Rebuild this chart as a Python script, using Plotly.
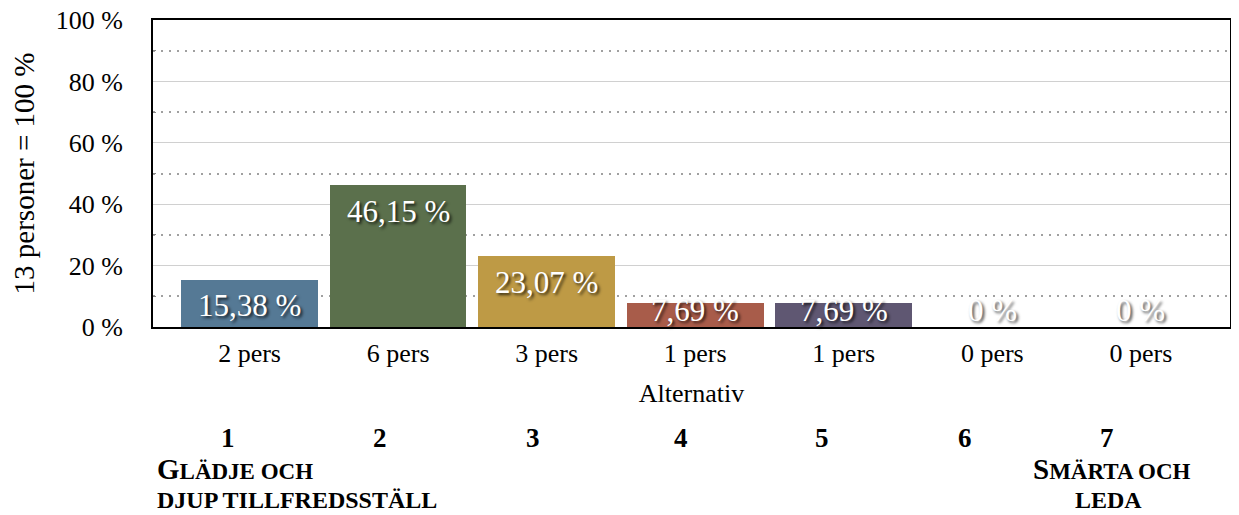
import plotly.graph_objects as go

# data
categories = [1, 2, 3, 4, 5, 6, 7]
percent = [15.38, 46.15, 23.07, 7.69, 7.69, 0.0, 0.0]
pct_labels = ["15,38 %", "46,15 %", "23,07 %", "7,69 %", "7,69 %", "0 %", "0 %"]
tick_labels = ["2 pers", "6 pers", "3 pers", "1 pers", "1 pers", "0 pers", "0 pers"]
bar_colors = ["#557995", "#5B704C", "#BE9A45", "#A85C4A", "#5F5772", "#8064A2", "#4BACC6"]
y_ticks = [0, 20, 40, 60, 80, 100]
y_tick_text = ["0 %", "20 %", "40 %", "60 %", "80 %", "100 %"]
y_minor = [10, 30, 50, 70, 90]
scale_numbers = ["1", "2", "3", "4", "5", "6", "7"]

FONT = "Liberation Serif, Times New Roman, serif"
SHADOW = "2px 2px 3px rgba(0,0,0,0.75)"

# page geometry: the html body has an 8px margin, so the figure is shrunk by that
OFF = 8
W, H = 1239 - OFF, 515 - OFF
PLOT_L, PLOT_R, PLOT_T, PLOT_B = 153, 1230, 20, 327   # wanted page pixels
M_L, M_T = PLOT_L - OFF, PLOT_T - OFF
M_R, M_B = W + OFF - PLOT_R, H + OFF - PLOT_B
PLOT_W, PLOT_H = PLOT_R - PLOT_L, PLOT_B - PLOT_T
number_px = [228, 380, 533, 681, 822, 965, 1107]


def px_x(px):
    return (px - PLOT_L) / PLOT_W


def px_y(py):
    return (PLOT_B - py) / PLOT_H


xs = list(range(len(categories)))

fig = go.Figure()
fig.add_trace(go.Bar(
    x=xs, y=percent, width=0.92,
    marker=dict(color=bar_colors, line=dict(width=0)),
    hoverinfo="skip", showlegend=False,
))

annotations = []
# bar value labels, "inside end" like Excel; small bars get clamped near the axis
for x, v, t in zip(xs, percent, pct_labels):
    if v >= 14:
        y, shift = v, -26
    else:
        y, shift = 0, 17
    annotations.append(dict(
        x=x, y=y, xref="x", yref="y", text=t, showarrow=False,
        yanchor="middle", yshift=shift,
        font=dict(family=FONT, size=31, color="white", shadow=SHADOW),
    ))

# scale numbers below the chart
for px, n in zip(number_px, scale_numbers):
    annotations.append(dict(
        x=px_x(px), y=px_y(438), xref="paper", yref="paper", text="<b>" + n + "</b>",
        showarrow=False, xanchor="center", yanchor="middle",
        font=dict(family=FONT, size=27, color="black"),
    ))


def small_caps(first, rest):
    return "<b>" + first + "<span style='font-size:23px'>" + rest + "</span></b>"


end_texts = [
    (155, 469, "left", small_caps("G", "LÄDJE OCH")),
    (155, 500, "left", "<b>DJUP TILLFREDSSTÄLL</b>"),
    (1111, 469, "center", small_caps("S", "MÄRTA OCH")),
    (1108, 500, "center", "<b>LEDA</b>"),
]
for px, py, anchor, txt in end_texts:
    annotations.append(dict(
        x=px_x(px), y=px_y(py), xref="paper", yref="paper", text=txt,
        showarrow=False, xanchor=anchor, yanchor="middle",
        font=dict(family=FONT, size=24 if "<span" not in txt else 29, color="black"),
    ))

fig.update_layout(
    width=W, height=H,
    margin=dict(l=M_L, r=M_R, t=M_T, b=M_B, autoexpand=False),
    paper_bgcolor="white", plot_bgcolor="white",
    font=dict(family=FONT, size=26, color="black"),
    bargap=0,
    annotations=annotations,
)

fig.update_xaxes(
    range=[-0.65, 6.6], tickmode="array", tickvals=xs, ticktext=tick_labels,
    showgrid=False, zeroline=False, ticks="", ticklabelstandoff=2,
    showline=True, linecolor="black", linewidth=2, mirror=True,
    title=dict(text="Alternativ", standoff=17, font=dict(size=26)),
    tickfont=dict(size=26), automargin=False,
)
fig.update_yaxes(
    range=[0, 100], tickmode="array", tickvals=y_ticks, ticktext=y_tick_text,
    showgrid=True, gridcolor="#D0D0D0", gridwidth=1, zeroline=False,
    ticks="", ticklabelstandoff=23, ticklabeloverflow="allow",
    showline=True, linecolor="black", linewidth=2, mirror=True,
    minor=dict(tickmode="array", tickvals=y_minor, showgrid=True, gridcolor="#A0A0A0",
               griddash="2px,6px", gridwidth=2,
               ticks="inside", ticklen=3, tickcolor="#888888"),
    title=dict(text="13 personer = 100 %", standoff=13, font=dict(size=29)),
    tickfont=dict(size=26), automargin=False,
)

fig.write_html("out.html")
